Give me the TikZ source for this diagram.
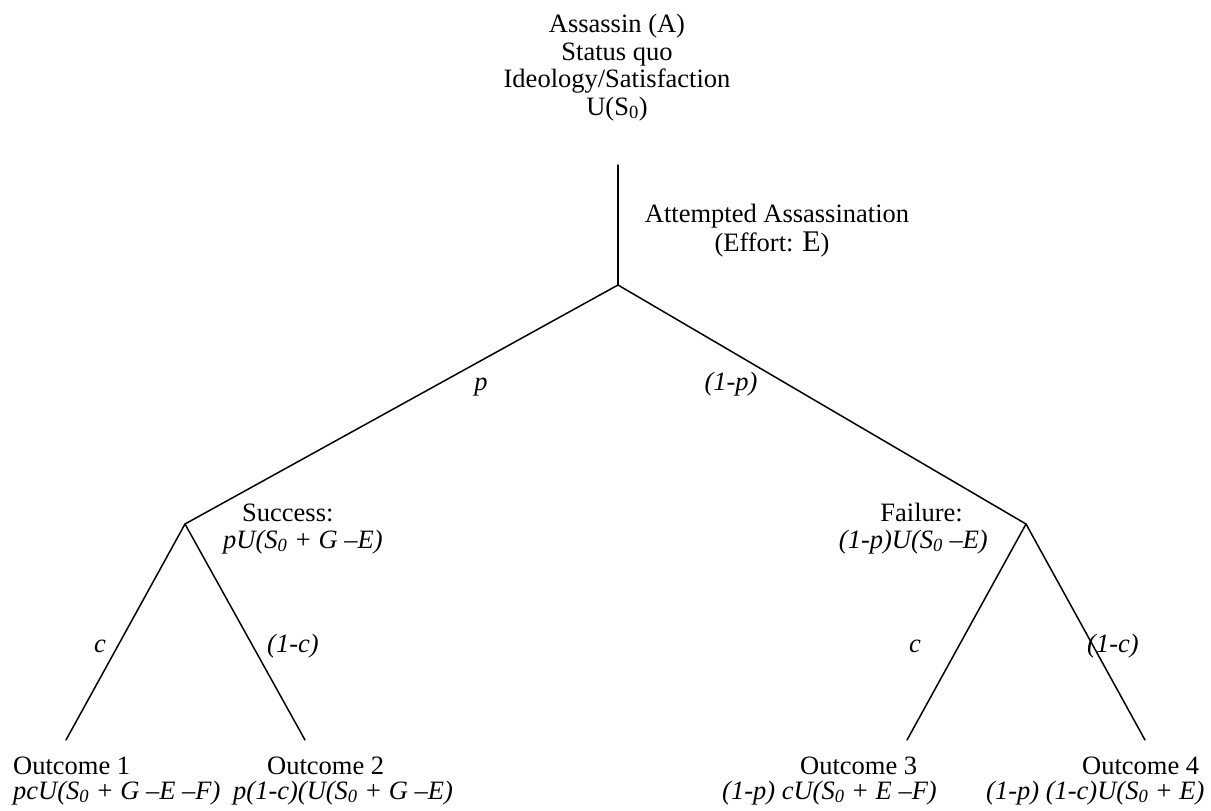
\documentclass[tikz,border=0pt]{standalone}
\usepackage{fontspec}
\setmainfont{Liberation Serif}
\tikzset{
  branch/.style={line width=1.5pt, line cap=round},
  lbl/.style={inner sep=0pt, font=\fontsize{26.5}{28}\selectfont},
  ilbl/.style={lbl, font=\fontsize{26.5}{28}\selectfont\itshape},
}
\begin{document}
\begin{tikzpicture}[x=1pt,y=-1pt]
\useasboundingbox (0,0) rectangle (1211,811);
% tree points
\coordinate (top) at (618,165);
\coordinate (root) at (618,285);
\coordinate (L) at (185,524);
\coordinate (R) at (1026,524);
\coordinate (LL) at (66,740);
\coordinate (LR) at (305,740);
\coordinate (RL) at (907,740);
\coordinate (RR) at (1145,740);
% branches
\draw[branch] (top) -- (root);
\draw[branch] (root) -- (L);
\draw[branch] (root) -- (R);
\draw[branch] (L) -- (LL);
\draw[branch] (L) -- (LR);
\draw[branch] (R) -- (RL);
\draw[branch] (R) -- (RR);
% top labels
\node[lbl, anchor=base] (t1) at (617,32) {Assassin (A)};
\node[lbl, anchor=base] (t2) at (617,60) {Status quo};
\node[lbl, anchor=base] (t3) at (617,87) {Ideology/Satisfaction};
\node[lbl, anchor=base] (t4) at (617,115) {U(S\textsubscript{0})};
\node[lbl, anchor=base] (att1) at (777,222) {Attempted Assassination};
\node[lbl, anchor=base] (att2) at (772,251) {(Effort: {\fontsize{30}{30}\selectfont E})};
% probability labels
\node[ilbl, anchor=base] (pl) at (481,390) {p};
\node[ilbl, anchor=base] (pr) at (731,390) {(1-p)};
\node[lbl, anchor=base west] (succ) at (242,521) {Success:};
\node[ilbl, anchor=base west] (succv) at (223,548) {pU(S\textsubscript{0} + G –E)};
\node[lbl, anchor=base east] (fail) at (963,521) {Failure:};
\node[ilbl, anchor=base east] (failv) at (988,548) {(1-p)U(S\textsubscript{0} –E)};
\node[ilbl, anchor=base] (cl) at (100,652) {c};
\node[ilbl, anchor=base west] (ncl) at (267,652) {(1-c)};
\node[ilbl, anchor=base] (cr) at (915,652) {c};
\node[ilbl, anchor=base west] (ncr) at (1087,652) {(1-c)};
% outcomes
\node[lbl, anchor=base west] (o1) at (13,774) {Outcome 1};
\node[ilbl, anchor=base west] (o1v) at (13,799) {pcU(S\textsubscript{0} + G –E –F)};
\node[lbl, anchor=base west] (o2) at (267,774) {Outcome 2};
\node[ilbl, anchor=base west] (o2v) at (233,799) {p(1-c)(U(S\textsubscript{0} + G –E)};
\node[lbl, anchor=base west] (o3) at (800,774) {Outcome 3};
\node[ilbl, anchor=base west] (o3v) at (722,799) {(1-p) cU(S\textsubscript{0} + E –F)};
\node[lbl, anchor=base west] (o4) at (1082,774) {Outcome 4};
\node[ilbl, anchor=base west] (o4v) at (986,799) {(1-p) (1-c)U(S\textsubscript{0} + E)};
\end{tikzpicture}
\end{document}
